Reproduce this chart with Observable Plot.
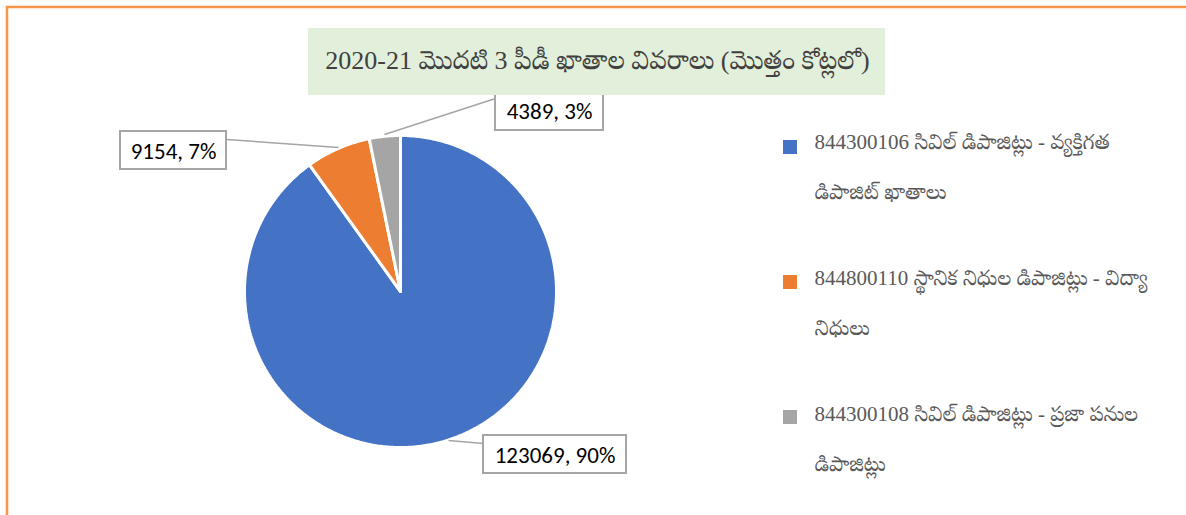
<!DOCTYPE html>
<html>
<head>
<meta charset="utf-8">
<script src="https://cdn.jsdelivr.net/npm/d3@7"></script>
<script src="https://cdn.jsdelivr.net/npm/@observablehq/plot@0.6"></script>
<style>
  html, body { margin: 0; padding: 0; background: #fff; }
  #chart { width: 1186px; height: 515px; overflow: hidden; }
</style>
</head>
<body>
<div id="chart"></div>
<script>
// ---- data ----
const titleText = "2020-21 మొదటి 3 పీడీ ఖాతాల వివరాలు (మొత్తం కోట్లలో)";
const codes = ["844300106", "844800110", "844300108"];
const legendLabels = [
  "844300106 సివిల్ డిపాజిట్లు - వ్యక్తిగత\nడిపాజిట్ ఖాతాలు",
  "844800110 స్థానిక నిధుల డిపాజిట్లు - విద్యా\nనిధులు",
  "844300108 సివిల్ డిపాజిట్లు - ప్రజా పనుల\nడిపాజిట్లు"
];
const values = [123069, 9154, 4389];
const colors = ["#4472C4", "#ED7D31", "#A5A5A5"];

// ---- layout ----
const W = 1186, H = 515;
const cx = 400, cy = 291, R = 156;
const total = d3.sum(values);
const pct = values.map(v => Math.round(v / total * 100));

// slice polygons (clockwise from 12 o'clock)
const slices = [];
let acc = 0;
values.forEach((v, i) => {
  const a0 = acc / total * 2 * Math.PI;
  acc += v;
  const a1 = acc / total * 2 * Math.PI;
  const n = Math.max(4, Math.ceil((a1 - a0) / 0.01));
  slices.push({code: codes[i], x: cx, y: cy});
  for (let j = 0; j <= n; j++) {
    const a = a0 + (a1 - a0) * j / n;
    slices.push({code: codes[i], x: cx + R * Math.sin(a), y: cy - R * Math.cos(a)});
  }
  slices.push({code: codes[i], x: cx, y: cy});
});

// data labels (boxes + leader lines)
const labelBoxes = [
  {i: 0, x1: 483, x2: 626, y1: 435, y2: 473, lx1: 448, ly1: 440, lx2: 483, ly2: 443},
  {i: 1, x1: 120, x2: 226, y1: 131, y2: 169, lx1: 338, ly1: 147, lx2: 226, ly2: 139},
  {i: 2, x1: 495, x2: 603, y1: 90, y2: 130, lx1: 384, ly1: 134, lx2: 495, ly2: 98}
].map(d => ({...d, text: `${values[d.i]}, ${pct[d.i]}%`}));

// legend rows: one text row per line
const legend = codes.map((c, i) => ({code: c, y: 147 + i * 135}));
const legendRows = [];
legendLabels.forEach((lab, i) => {
  lab.split("\n").forEach((line, j) => legendRows.push({text: line, y: 142 + i * 136 + j * 50}));
});

const teluguFont = "'Liberation Serif', 'Noto Serif Telugu', 'Noto Sans Telugu', serif";

const chart = Plot.plot({
  width: W,
  height: H,
  margin: 0,
  style: {background: "#fff", overflow: "hidden"},
  x: {domain: [0, W], range: [0, W], axis: null},
  y: {domain: [0, H], range: [0, H], axis: null},
  color: {domain: codes, range: colors},
  marks: [
    // outer frame (orange, extends past right/bottom edges)
    Plot.rect([{}], {x1: 7, x2: W + 20, y1: 7, y2: H + 20, fill: "none", stroke: "#F79646", strokeWidth: 2.5}),
    // pie slices
    Plot.line(slices, {x: "x", y: "y", z: "code", fill: "code", stroke: "white", strokeWidth: 3, strokeLinejoin: "miter", curve: "linear"}),
    // leader lines
    Plot.link(labelBoxes, {x1: "lx1", y1: "ly1", x2: "lx2", y2: "ly2", stroke: "#A5A5A5", strokeWidth: 1.5}),
    // label boxes
    Plot.rect(labelBoxes, {x1: "x1", x2: "x2", y1: "y1", y2: "y2", fill: "white", stroke: "#A5A5A5", strokeWidth: 2}),
    Plot.text(labelBoxes, {x: d => (d.x1 + d.x2) / 2, y: d => (d.y1 + d.y2) / 2 + 1, text: "text", fontSize: 23, fill: "#000", fontFamily: "Carlito, 'Open Sans', 'Liberation Sans', sans-serif"}),
    // title box
    Plot.rect([{}], {x1: 308, x2: 885, y1: 28, y2: 95, fill: "#E2EFDA"}),
    Plot.text([titleText], {x: 597, y: 60, text: d => d, fontSize: 26, fill: "#404040", fontFamily: teluguFont}),
    // legend
    Plot.rect(legend, {x1: 783, x2: 797, y1: d => d.y - 7, y2: d => d.y + 7, fill: "code"}),
    Plot.text(legendRows, {x: 814, y: "y", text: "text", textAnchor: "start", fontSize: 21, fill: "#595959", fontFamily: teluguFont})
  ]
});

document.getElementById("chart").appendChild(chart);
</script>
</body>
</html>
